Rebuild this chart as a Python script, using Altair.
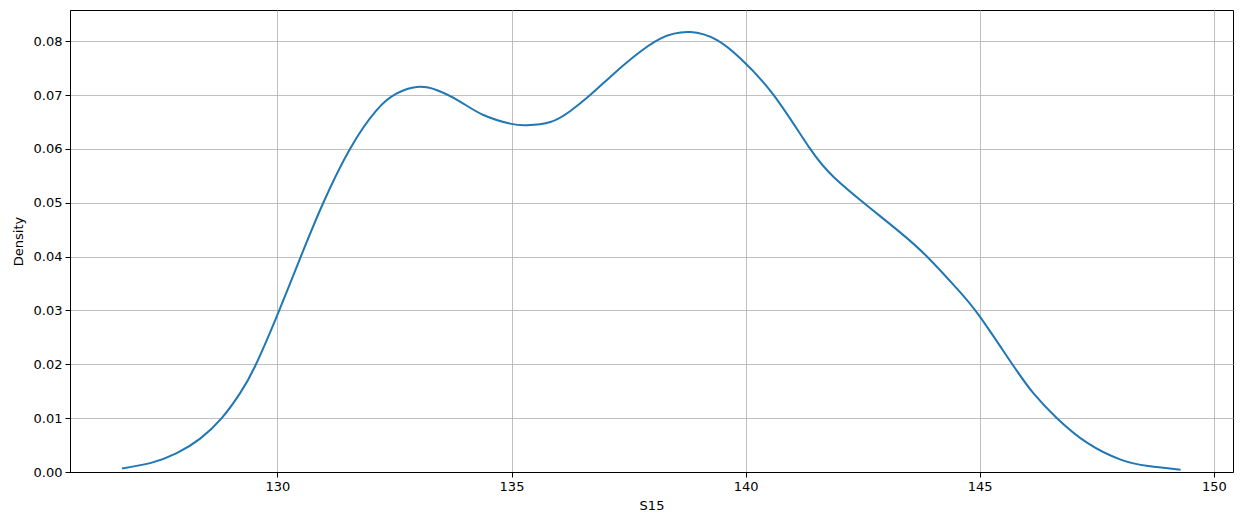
import altair as alt
import pandas as pd

x_vals = [126.68, 127.3, 127.85, 128.35, 128.81, 129.2, 129.52, 130.0, 130.5, 130.98,
          131.55, 132.12, 132.55, 132.98, 133.41, 133.9, 134.4, 134.97, 135.33, 135.83,
          136.25, 136.68, 137.15, 137.61, 138.18, 138.82, 139.39, 139.89, 140.6, 141.38,
          141.88, 142.52, 143.3, 143.91, 144.52, 145.0, 145.69, 146.15,
          146.65, 147.3, 148.01, 148.6, 149.29]
y_vals = [0.00067, 0.0017, 0.0035, 0.0062, 0.0100, 0.0146, 0.0196, 0.0292, 0.0400, 0.0500,
          0.0600, 0.0672, 0.0703, 0.0715, 0.0709, 0.0688, 0.0663, 0.0647, 0.0644, 0.0650,
          0.0670, 0.0700, 0.0737, 0.0771, 0.0805, 0.0817, 0.0802, 0.0768, 0.0700, 0.0600,
          0.0548, 0.0500, 0.0445, 0.0397, 0.0340, 0.0289, 0.0201, 0.0146,
          0.0100, 0.0054, 0.0023, 0.0011, 0.00043]

x_ticks = [130, 135, 140, 145, 150]
y_ticks = [0.0, 0.01, 0.02, 0.03, 0.04, 0.05, 0.06, 0.07, 0.08]

df = pd.DataFrame({"S15": x_vals, "Density": y_vals})

chart = alt.Chart(df).mark_line(
    color="#1f77b4", strokeWidth=2, interpolate="natural"
).encode(
    x=alt.X("S15:Q",
            scale=alt.Scale(domain=[125.57, 150.41], nice=False, zero=False),
            axis=alt.Axis(values=x_ticks, format="d", title="S15")),
    y=alt.Y("Density:Q",
            scale=alt.Scale(domain=[0, 0.0858], nice=False),
            axis=alt.Axis(values=y_ticks, format=".2f", title="Density")),
).properties(
    width=1163, height=462,
    autosize=alt.AutoSizeParams(type="none"),
    padding={"left": 62, "top": 2, "right": 1, "bottom": 45},
).configure_view(
    stroke="black", strokeWidth=1
).configure_axis(
    grid=True, gridColor="#b0b0b0", gridWidth=0.8,
    domainColor="black", domainWidth=1,
    tickColor="black", tickSize=5, tickWidth=1,
    labelFont="DejaVu Sans", labelFontSize=13, labelColor="black", labelPadding=3,
    titleFont="DejaVu Sans", titleFontSize=13, titleFontWeight="normal", titleColor="black",
).configure_axisX(
    titlePadding=6
).configure_axisY(
    titlePadding=8
)

chart.save("out.html", embed_options={"renderer": "svg", "actions": False})
